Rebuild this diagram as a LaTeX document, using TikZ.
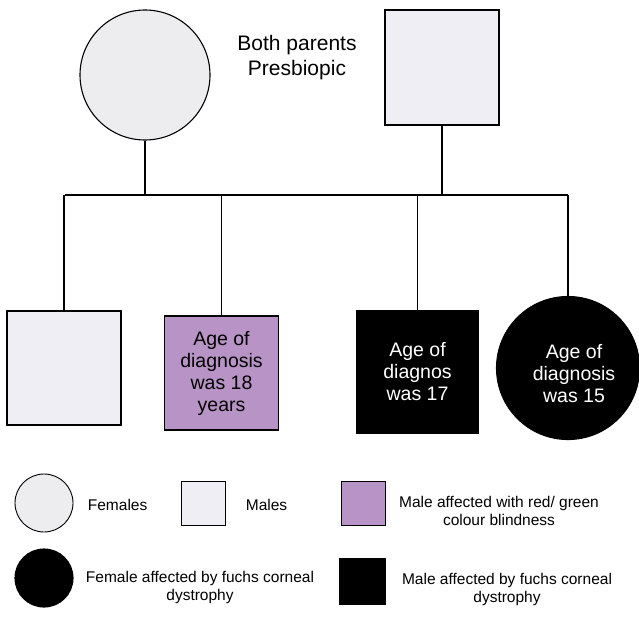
\documentclass[tikz,border=0pt]{standalone}
\usepackage{fontspec}
\setmainfont{Liberation Sans}
\usetikzlibrary{positioning}
\definecolor{femalefill}{HTML}{EDEDF0}
\definecolor{malefill}{HTML}{EFEEF4}
\definecolor{cbfill}{HTML}{B893C6}
\begin{document}
\begin{tikzpicture}[x=1pt, y=-1pt, line width=1.1pt,
    fem/.style = {draw, circle, fill=femalefill, inner sep=0pt},
    mal/.style = {draw, rectangle, fill=malefill, inner sep=0pt},
    cb/.style = {draw, rectangle, fill=cbfill, inner sep=0pt, align=center, font=\fontsize{19.5}{22}\selectfont},
    fuchs/.style = {draw, fill=black, text=white, inner sep=0pt, align=center, font=\fontsize{19.5}{22}\selectfont},
    key/.style = {align=center, font=\fontsize{15.5}{18}\selectfont}]
			\useasboundingbox (0,0) rectangle (639,634);
			% parents
			\node[fem, minimum size=130pt] (1) at (145,75) {};
			\node[mal, minimum width=114pt, minimum height=115pt] (2) at (442,67.5) {};
			\node[align=center, font=\fontsize{21}{25}\selectfont] (t) at (297,58) {Both parents\\Presbiopic};
			
			% children
			\node[mal, minimum size=114pt] (3) at (64,368) {};
			\node[cb, minimum size=114pt] (4) at (221.5,373) {Age of\\diagnosis\\was 18\\years};
			\node[fuchs, rectangle, minimum width=121pt, minimum height=122pt] (5) at (417.5,372) {Age of\\diagnos\\was 17};
			\node[fuchs, circle, minimum size=143pt] (6) at (568,368) {};
			\node[align=center, text=white, font=\fontsize{19.5}{22}\selectfont] (6t) at (574,374) {Age of\\diagnosis\\was 15};
			
			\coordinate (l) at (65,195);
			\coordinate (r) at (6.north |- l);
			
			\draw (l) -- (r);
			\draw (1.south) -- (1.south |- l);
			\draw (2.south) -- (2.south |- l);
			\draw (3.north |- l) -- (3.north);
			\draw (4.north |- l) -- (4.north);
			\draw (5.north |- l) -- (5.north);
			\draw (r) -- (6.north);
			
			% key
			\node[fem, line width=0.9pt, minimum size=58pt] (k1) at (44,503) {};
			\node[key, anchor=west] (k1t) at (84,505) {Females};
			\node[mal, line width=0.9pt, minimum size=44pt] (k2) at (203.5,503) {};
			\node[key, anchor=west] (k2t) at (242,505) {Males};
			\node[cb, line width=0.9pt, minimum size=44pt] (k3) at (363,503.5) {};
			\node[key] (k3t) at (499,511) {Male affected with red/ green\\colour blindness};
			\node[fuchs, circle, minimum size=58pt] (k4) at (44,578) {};
			\node[key] (k4t) at (200,587) {Female affected by fuchs corneal\\dystrophy};
			\node[fuchs, rectangle, minimum size=45pt] (k5) at (362.5,581.5) {};
			\node[key] (k5t) at (507,589) {Male affected by fuchs corneal\\dystrophy};
			
		\end{tikzpicture}
\end{document}
